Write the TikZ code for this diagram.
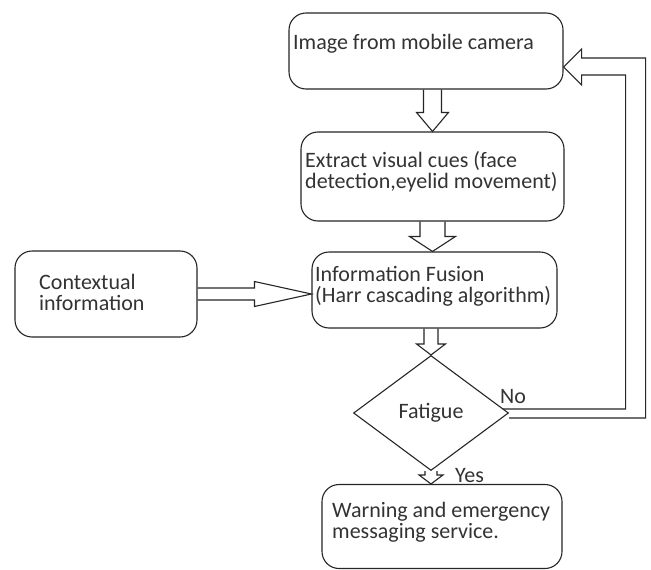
\documentclass[tikz,border=0pt]{standalone}
\usepackage{fontspec}
\setmainfont{Carlito}
\usetikzlibrary{shapes.geometric,calc}
\newcommand\hollowdown[5]{\draw[harrow] ($(#1)+(-#3,0)$) -- ($(#2)+(-#3,-#5)$) -- ($(#2)+(-#4,-#5)$) -- (#2) -- ($(#2)+(#4,-#5)$) -- ($(#2)+(#3,-#5)$) -- ($(#1)+(#3,0)$);}
\begin{document}
\begin{tikzpicture}[x=1pt,y=-1pt,
  box/.style={draw=black!85,line width=1.1pt,rounded corners=17pt,inner sep=0pt},
  txt/.style={anchor=base west,inner sep=0pt,align=left,font=\fontsize{22}{21}\selectfont,text=black!80},
  harrow/.style={draw=black!85,line width=1.1pt,line join=miter}]
\useasboundingbox[fill=white] (0,0) rectangle (651,570);
% boxes
\node[box,minimum width=274pt,minimum height=76pt] (b1) at (426,51) {};
\node[box,minimum width=263pt,minimum height=89pt] (b2) at (432.5,176.5) {};
\node[box,minimum width=182pt,minimum height=86pt] (b3) at (106,294) {};
\node[box,minimum width=245pt,minimum height=76pt] (b4) at (434.5,290) {};
\node[box,minimum width=240pt,minimum height=84pt] (b5) at (442,526.5) {};
\node[draw=black!85,line width=1.1pt,shape=diamond,inner sep=0pt,minimum width=155pt,minimum height=115pt,font=\fontsize{22}{21}\selectfont,text=black!80] (d) at (431,413) {Fatigue};
% texts (base anchor = baseline of last line)
\node[txt] (t1) at (293,49) {Image from mobile camera};
\node[txt] (t2) at (305,188) {Extract visual cues (face\\detection,eyelid movement)};
\node[txt] (t3) at (39,310) {Contextual\\information};
\node[txt] (t4) at (315,302) {Information Fusion\\(Harr cascading algorithm)};
\node[txt] (t5) at (332,538) {Warning and emergency\\messaging service.};
\node[txt] (no) at (500,403) {No};
\node[txt] (yes) at (455,482) {Yes};
% hollow arrows
\hollowdown{b1.south -| b2.north}{b2.north}{9}{16}{19}
\hollowdown{b2.south}{b4.north -| b2.south}{12.5}{23}{15}
\hollowdown{b4.south -| d.north}{d.north}{7}{14.5}{11}
\hollowdown{d.south}{d.south |- b5.north}{6}{12}{9}
\coordinate (htip) at (b4.west |- b3.east);
\draw[harrow] ($(b3.east)+(0,-6)$) -- ($(htip)+(-57,-6)$) -- ($(htip)+(-57,-12.5)$) -- (htip) -- ($(htip)+(-57,12.5)$) -- ($(htip)+(-57,6)$) -- ($(b3.east)+(0,6)$);
% feedback
\coordinate (fbtip) at ($(b1.east)+(0,16)$);
\draw[harrow] ($(d.east)+(0,5)$) -| ($(fbtip)+(82,-9)$) -- ($(fbtip)+(18,-9)$) -- ($(fbtip)+(18,-18)$) -- (fbtip) -- ($(fbtip)+(18,18)$) -- ($(fbtip)+(18,8)$) -- ($(fbtip)+(62,8)$) |- ($(d.east)+(-6,-4)$);
\end{tikzpicture}
\end{document}
